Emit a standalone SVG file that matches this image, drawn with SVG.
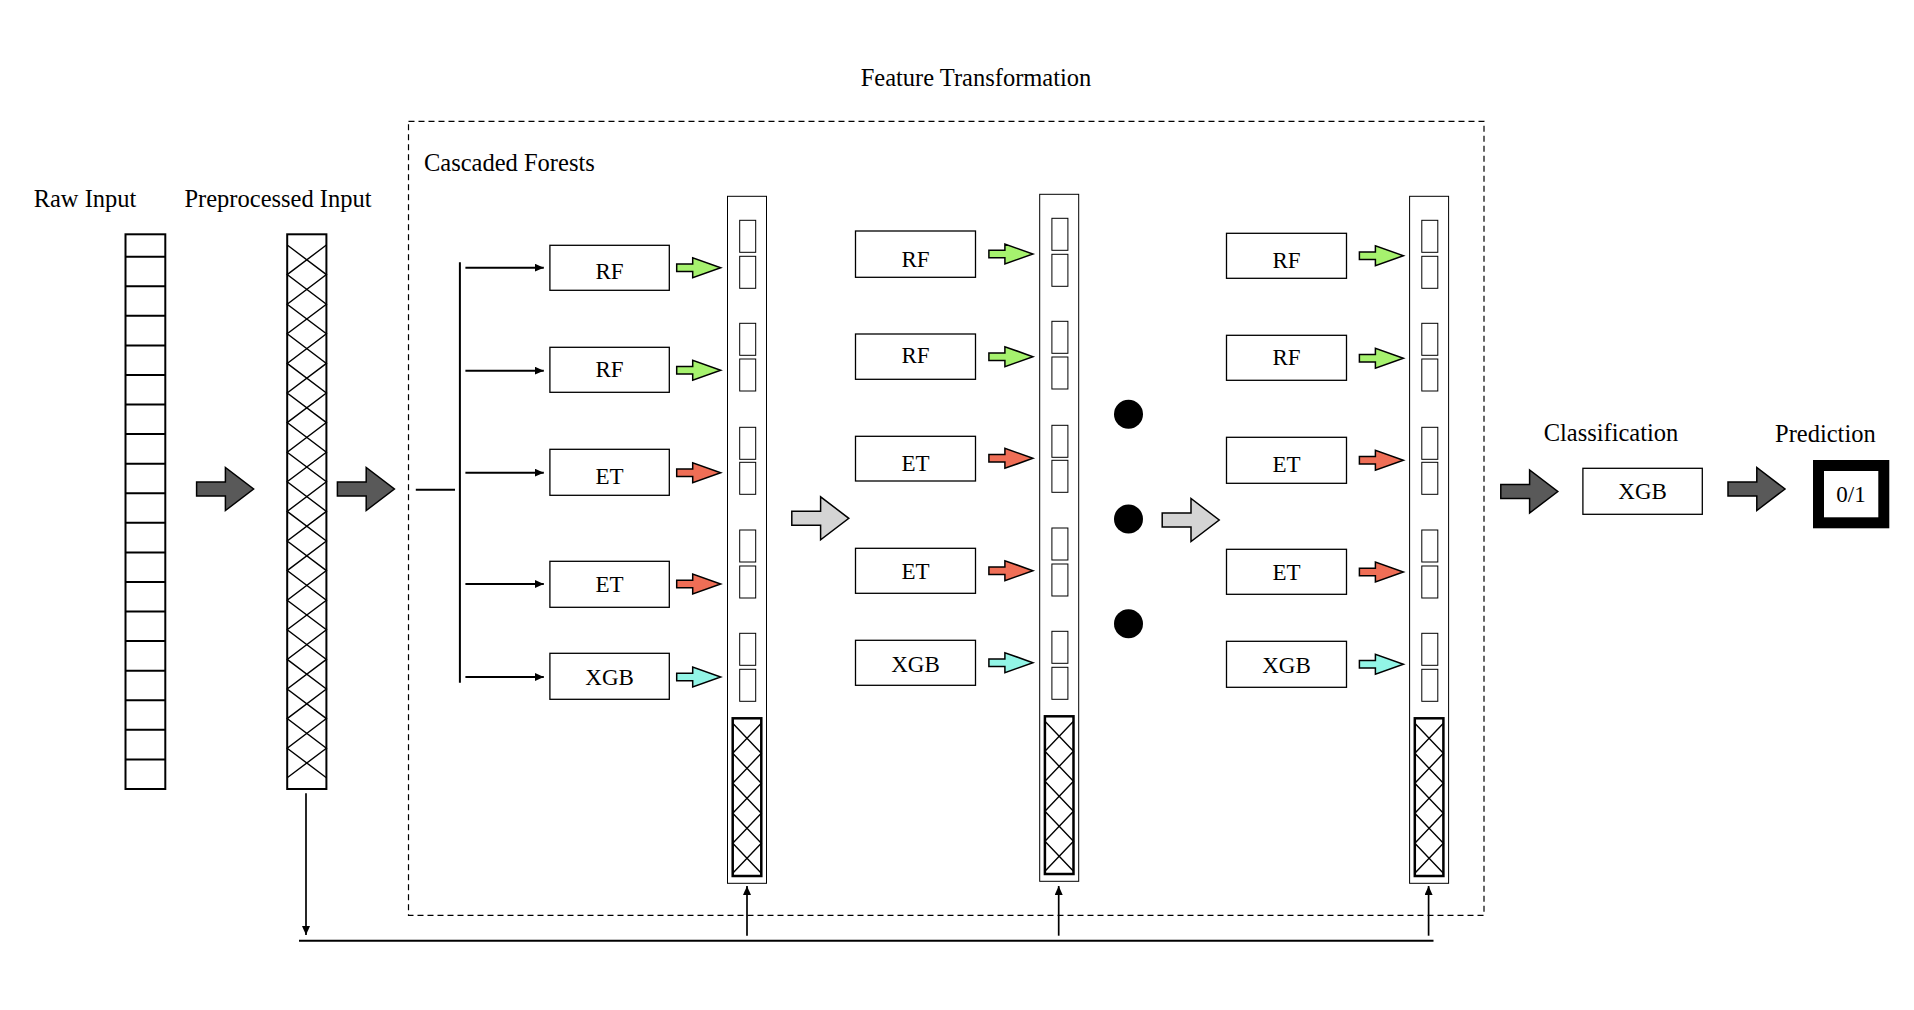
<svg xmlns="http://www.w3.org/2000/svg" width="1914" height="1010" viewBox="0 0 1914 1010">
<style>
.t{font-family:"Liberation Serif","Times New Roman",serif;font-size:24.5px;fill:#000}
.bl{font-family:"Liberation Serif","Times New Roman",serif;font-size:23px;fill:#000;text-anchor:middle}
.box{fill:#fff;stroke:#000;stroke-width:1.3}
.thin{fill:#fff;stroke:#000;stroke-width:1}
.col{fill:#fff;stroke:#000;stroke-width:2}
.hatch{fill:none;stroke:#000;stroke-width:1.4}
.ln{fill:none;stroke:#000;stroke-width:2}
.sa{stroke:#000;stroke-width:1.5}
.green{fill:#a6f26e}
.red{fill:#ef6e56}
.cyan{fill:#92f5e6}
.dark{fill:#595959;stroke:#000;stroke-width:1.5}
.light{fill:#d4d4d4;stroke:#000;stroke-width:1.5}
</style>
<defs>
<marker id="ah" markerUnits="userSpaceOnUse" markerWidth="10" markerHeight="9" refX="9" refY="4" orient="auto">
<path d="M0,0 L9,4 L0,8 Z" fill="#000"/>
</marker>
<path id="sarrow" d="M0,-3.7 H16 V-10 L44,0 L16,10 V3.7 H0 Z"/>
<path id="barrow" d="M0,-7 H28.8 V-21.5 L57,0 L28.8,21.5 V7 H0 Z"/>
<g id="vec">
<rect class="thin" x="0" y="0" width="39" height="687"/>
<rect class="thin" x="12.2" y="24" width="16" height="32"/>
<rect class="thin" x="12.2" y="60" width="16" height="32"/>
<rect class="thin" x="12.2" y="127" width="16" height="32"/>
<rect class="thin" x="12.2" y="162.7" width="16" height="32"/>
<rect class="thin" x="12.2" y="231" width="16" height="32"/>
<rect class="thin" x="12.2" y="266" width="16" height="32"/>
<rect class="thin" x="12.2" y="333.7" width="16" height="32"/>
<rect class="thin" x="12.2" y="369.7" width="16" height="32"/>
<rect class="thin" x="12.2" y="437" width="16" height="32"/>
<rect class="thin" x="12.2" y="473" width="16" height="32"/>
<rect x="5.2" y="522" width="28.6" height="157.7" fill="#fff" stroke="#000" stroke-width="2.5"/>
<polyline class="hatch" points="5.2,527 33.8,557 5.2,587 33.8,617 5.2,647 33.8,677"/>
<polyline class="hatch" points="33.8,527 5.2,557 33.8,587 5.2,617 33.8,647 5.2,677"/>
</g>
</defs>

<text class="t" x="976" y="86" text-anchor="middle">Feature Transformation</text>
<rect x="408.5" y="121.3" width="1075.5" height="794" fill="none" stroke="#000" stroke-width="1.2" stroke-dasharray="6 4"/>
<text class="t" x="424" y="171">Cascaded Forests</text>

<g id="raw-input">
<text class="t" x="85" y="207" text-anchor="middle">Raw Input</text>
<rect class="col" x="125.5" y="234.3" width="39.8" height="554.7"/>
<path class="ln" d="M125.5 256.7H165.3M125.5 286.3H165.3M125.5 315.8H165.3M125.5 345.4H165.3M125.5 375H165.3M125.5 404.6H165.3M125.5 434.1H165.3M125.5 463.7H165.3M125.5 493.3H165.3M125.5 522.8H165.3M125.5 552.4H165.3M125.5 582H165.3M125.5 611.5H165.3M125.5 641.1H165.3M125.5 670.7H165.3M125.5 700.3H165.3M125.5 729.8H165.3M125.5 759.4H165.3"/>
</g>

<g id="preprocessed-input">
<text class="t" x="278" y="207" text-anchor="middle">Preprocessed Input</text>
<rect class="col" x="287.2" y="234.3" width="39.2" height="554.7"/>
<polyline class="hatch" points="287.2,245 326.4,274.6 287.2,304.2 326.4,333.8 287.2,363.4 326.4,393 287.2,422.6 326.4,452.2 287.2,481.8 326.4,511.4 287.2,541 326.4,570.6 287.2,600.2 326.4,629.8 287.2,659.4 326.4,689 287.2,718.6 326.4,748.2 287.2,777.8"/>
<polyline class="hatch" points="326.4,245 287.2,274.6 326.4,304.2 287.2,333.8 326.4,363.4 287.2,393 326.4,422.6 287.2,452.2 326.4,481.8 287.2,511.4 326.4,541 287.2,570.6 326.4,600.2 287.2,629.8 326.4,659.4 287.2,689 326.4,718.6 287.2,748.2 326.4,777.8"/>
</g>

<g id="col1-forests">
<rect class="box" x="549.9" y="245.3" width="119.4" height="45"/><text class="bl" x="609.6" y="279.3">RF</text>
<rect class="box" x="549.9" y="347.3" width="119.4" height="45"/><text class="bl" x="609.6" y="376.7">RF</text>
<rect class="box" x="549.9" y="449.3" width="119.4" height="46"/><text class="bl" x="609.6" y="484">ET</text>
<rect class="box" x="549.9" y="561.3" width="119.4" height="46"/><text class="bl" x="609.6" y="592.3">ET</text>
<rect class="box" x="549.9" y="653.3" width="119.4" height="46"/><text class="bl" x="609.6" y="685">XGB</text>
</g>
<g id="col1-vector"><use href="#vec" transform="translate(727.5,196.3)"/></g>

<g id="col2-forests">
<rect class="box" x="855.5" y="231" width="120" height="46.3"/><text class="bl" x="915.5" y="266.7">RF</text>
<rect class="box" x="855.5" y="334" width="120" height="45.3"/><text class="bl" x="915.5" y="363.3">RF</text>
<rect class="box" x="855.5" y="436.3" width="120" height="44.7"/><text class="bl" x="915.5" y="471">ET</text>
<rect class="box" x="855.5" y="548.3" width="120" height="45"/><text class="bl" x="915.5" y="579">ET</text>
<rect class="box" x="855.5" y="640.3" width="120" height="45"/><text class="bl" x="915.5" y="671.7">XGB</text>
</g>
<g id="col2-vector"><use href="#vec" transform="translate(1039.7,194.3)"/></g>

<g id="ellipsis">
<circle cx="1128.5" cy="414.3" r="14.5" fill="#000"/>
<circle cx="1128.5" cy="519" r="14.5" fill="#000"/>
<circle cx="1128.5" cy="623.7" r="14.5" fill="#000"/>
</g>

<g id="col3-forests">
<rect class="box" x="1226.5" y="233.3" width="120" height="45"/><text class="bl" x="1286.5" y="268.3">RF</text>
<rect class="box" x="1226.5" y="335.3" width="120" height="45"/><text class="bl" x="1286.5" y="365">RF</text>
<rect class="box" x="1226.5" y="437.3" width="120" height="46"/><text class="bl" x="1286.5" y="472.3">ET</text>
<rect class="box" x="1226.5" y="549.3" width="120" height="45"/><text class="bl" x="1286.5" y="580">ET</text>
<rect class="box" x="1226.5" y="641.3" width="120" height="46"/><text class="bl" x="1286.5" y="672.7">XGB</text>
</g>
<g id="col3-vector"><use href="#vec" transform="translate(1409.6,196.3)"/></g>

<g id="classification">
<text class="t" x="1611" y="441" text-anchor="middle">Classification</text>
<rect class="box" x="1582.9" y="468.3" width="119.4" height="46"/>
<text class="bl" x="1642.6" y="499">XGB</text>
</g>

<g id="prediction">
<text class="t" x="1825.4" y="442" text-anchor="middle">Prediction</text>
<rect x="1818.5" y="465.5" width="65.3" height="57.3" fill="#fff" stroke="#000" stroke-width="11"/>
<text class="bl" x="1851" y="501.7" font-size="20">0/1</text>
</g>

<g id="connectors">
<use href="#barrow" class="dark" transform="translate(196.6,489)"/>
<use href="#barrow" class="dark" transform="translate(337.4,489)"/>
<use href="#barrow" class="light" transform="translate(791.8,518.3)"/>
<use href="#barrow" class="light" transform="translate(1162.2,520)"/>
<use href="#barrow" class="dark" transform="translate(1500.8,491.5)"/>
<use href="#barrow" class="dark" transform="translate(1728,489)"/>

<line class="ln" x1="415.8" y1="489.7" x2="455" y2="489.7"/>
<line class="ln" x1="459.9" y1="262.3" x2="459.9" y2="682.7"/>
<line class="ln" x1="465.4" y1="267.7" x2="543.8" y2="267.7" marker-end="url(#ah)"/>
<line class="ln" x1="465.4" y1="370.7" x2="543.8" y2="370.7" marker-end="url(#ah)"/>
<line class="ln" x1="465.4" y1="472.7" x2="543.8" y2="472.7" marker-end="url(#ah)"/>
<line class="ln" x1="465.4" y1="584" x2="543.8" y2="584" marker-end="url(#ah)"/>
<line class="ln" x1="465.4" y1="677" x2="543.8" y2="677" marker-end="url(#ah)"/>

<use href="#sarrow" class="green sa" transform="translate(676.7,267.7)"/>
<use href="#sarrow" class="green sa" transform="translate(676.7,370.3)"/>
<use href="#sarrow" class="red sa" transform="translate(676.7,472.7)"/>
<use href="#sarrow" class="red sa" transform="translate(676.7,584)"/>
<use href="#sarrow" class="cyan sa" transform="translate(676.7,677)"/>

<use href="#sarrow" class="green sa" transform="translate(988.9,254)"/>
<use href="#sarrow" class="green sa" transform="translate(988.9,356.7)"/>
<use href="#sarrow" class="red sa" transform="translate(988.9,458.3)"/>
<use href="#sarrow" class="red sa" transform="translate(988.9,570.7)"/>
<use href="#sarrow" class="cyan sa" transform="translate(988.9,662.7)"/>

<use href="#sarrow" class="green sa" transform="translate(1359.4,255.7)"/>
<use href="#sarrow" class="green sa" transform="translate(1359.4,358.3)"/>
<use href="#sarrow" class="red sa" transform="translate(1359.4,460.3)"/>
<use href="#sarrow" class="red sa" transform="translate(1359.4,572)"/>
<use href="#sarrow" class="cyan sa" transform="translate(1359.4,664.3)"/>

<line x1="306" y1="793.3" x2="306" y2="935" stroke="#000" stroke-width="1.7" marker-end="url(#ah)"/>
<line class="ln" x1="299" y1="940.7" x2="1433.5" y2="940.7" stroke-width="2.2"/>
<line x1="747" y1="935.7" x2="747" y2="886" stroke="#000" stroke-width="1.7" marker-end="url(#ah)"/>
<line x1="1058.7" y1="935.7" x2="1058.7" y2="886" stroke="#000" stroke-width="1.7" marker-end="url(#ah)"/>
<line x1="1428.6" y1="935.7" x2="1428.6" y2="886" stroke="#000" stroke-width="1.7" marker-end="url(#ah)"/>
</g>
</svg>
